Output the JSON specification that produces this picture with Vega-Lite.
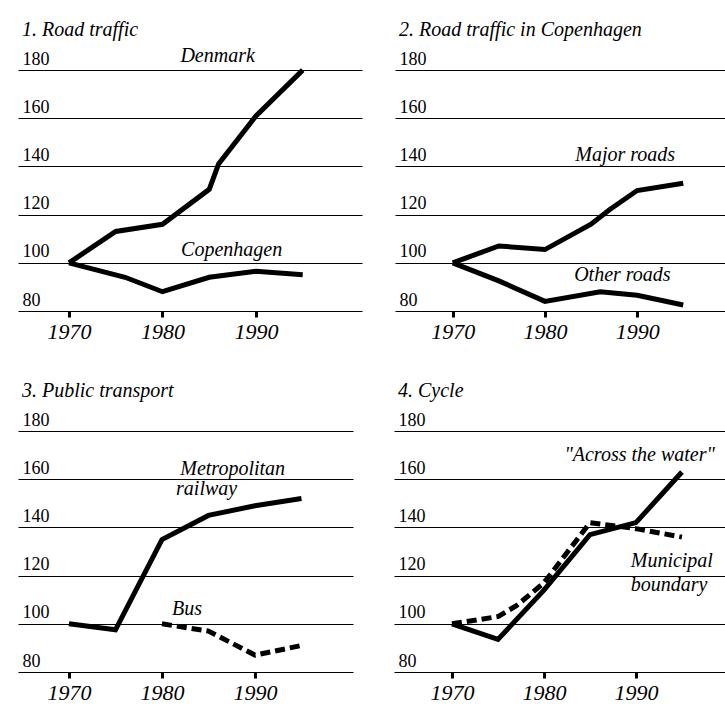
{
  "$schema": "https://vega.github.io/schema/vega-lite/v6.json",
  "padding": {"left": 18, "top": 19, "right": 0, "bottom": 0},
  "background": "white",
  "config": {
    "font": "Liberation Serif",
    "view": {"stroke": null},
    "axis": {"labelColor": "black", "labelFont": "Liberation Serif", "domain": false, "labelFlush": false, "labelOverlap": false},
    "axisX": {"grid": false, "labelFontSize": 22, "labelFontStyle": "italic", "labelPadding": 4},
    "axisY": {"grid": true, "gridColor": "black", "gridWidth": 1, "gridOpacity": 1, "ticks": false, "labelAlign": "left", "labelBaseline": "alphabetic", "labelPadding": -4, "labelOffset": -6, "labelFontSize": 18},
    "title": {"anchor": "start", "frame": "group", "fontSize": 20, "fontStyle": "italic", "fontWeight": "normal", "baseline": "alphabetic", "offset": 6, "dx": 4, "color": "black", "font": "Liberation Serif"},
    "text": {"fontStyle": "italic", "fontSize": 20, "align": "center", "baseline": "alphabetic", "color": "black", "font": "Liberation Serif"}
  },
  "datasets": {
    "series": [
      {"panel": 1, "series": "Denmark", "year": 1970, "value": 100},
      {"panel": 1, "series": "Denmark", "year": 1975, "value": 113},
      {"panel": 1, "series": "Denmark", "year": 1980, "value": 116},
      {"panel": 1, "series": "Denmark", "year": 1985, "value": 130.5},
      {"panel": 1, "series": "Denmark", "year": 1986, "value": 141},
      {"panel": 1, "series": "Denmark", "year": 1990, "value": 161},
      {"panel": 1, "series": "Denmark", "year": 1995, "value": 180},
      {"panel": 1, "series": "Copenhagen", "year": 1970, "value": 100},
      {"panel": 1, "series": "Copenhagen", "year": 1976, "value": 94},
      {"panel": 1, "series": "Copenhagen", "year": 1980, "value": 88},
      {"panel": 1, "series": "Copenhagen", "year": 1985, "value": 94},
      {"panel": 1, "series": "Copenhagen", "year": 1990, "value": 96.5},
      {"panel": 1, "series": "Copenhagen", "year": 1995, "value": 95},
      {"panel": 2, "series": "Major roads", "year": 1970, "value": 100},
      {"panel": 2, "series": "Major roads", "year": 1975, "value": 107},
      {"panel": 2, "series": "Major roads", "year": 1980, "value": 105.5},
      {"panel": 2, "series": "Major roads", "year": 1985, "value": 116},
      {"panel": 2, "series": "Major roads", "year": 1987, "value": 122},
      {"panel": 2, "series": "Major roads", "year": 1990, "value": 130},
      {"panel": 2, "series": "Major roads", "year": 1995, "value": 133},
      {"panel": 2, "series": "Other roads", "year": 1970, "value": 100},
      {"panel": 2, "series": "Other roads", "year": 1975, "value": 92.5},
      {"panel": 2, "series": "Other roads", "year": 1980, "value": 84},
      {"panel": 2, "series": "Other roads", "year": 1986, "value": 88},
      {"panel": 2, "series": "Other roads", "year": 1990, "value": 86.5},
      {"panel": 2, "series": "Other roads", "year": 1995, "value": 82.5},
      {"panel": 3, "series": "Metropolitan railway", "year": 1970, "value": 100},
      {"panel": 3, "series": "Metropolitan railway", "year": 1975, "value": 97.5},
      {"panel": 3, "series": "Metropolitan railway", "year": 1980, "value": 135},
      {"panel": 3, "series": "Metropolitan railway", "year": 1985, "value": 145},
      {"panel": 3, "series": "Metropolitan railway", "year": 1990, "value": 149},
      {"panel": 3, "series": "Metropolitan railway", "year": 1995, "value": 152},
      {"panel": 3, "series": "Bus", "year": 1980, "value": 100},
      {"panel": 3, "series": "Bus", "year": 1985, "value": 97},
      {"panel": 3, "series": "Bus", "year": 1990, "value": 87},
      {"panel": 3, "series": "Bus", "year": 1995, "value": 91},
      {"panel": 4, "series": "Across the water", "year": 1970, "value": 100},
      {"panel": 4, "series": "Across the water", "year": 1975, "value": 93.5},
      {"panel": 4, "series": "Across the water", "year": 1980, "value": 114},
      {"panel": 4, "series": "Across the water", "year": 1985, "value": 137},
      {"panel": 4, "series": "Across the water", "year": 1990, "value": 142},
      {"panel": 4, "series": "Across the water", "year": 1995, "value": 163},
      {"panel": 4, "series": "Municipal boundary", "year": 1970, "value": 100},
      {"panel": 4, "series": "Municipal boundary", "year": 1975, "value": 103},
      {"panel": 4, "series": "Municipal boundary", "year": 1977, "value": 107.5},
      {"panel": 4, "series": "Municipal boundary", "year": 1980, "value": 117},
      {"panel": 4, "series": "Municipal boundary", "year": 1985, "value": 142},
      {"panel": 4, "series": "Municipal boundary", "year": 1990, "value": 139.5},
      {"panel": 4, "series": "Municipal boundary", "year": 1995, "value": 136}
    ],
    "labels": [
      {"panel": 1, "text": "Denmark", "year": 1985.9, "value": 183.5},
      {"panel": 1, "text": "Copenhagen", "year": 1987.4, "value": 102.9},
      {"panel": 2, "text": "Major roads", "year": 1988.7, "value": 142.4},
      {"panel": 2, "text": "Other roads", "year": 1988.4, "value": 92.6},
      {"panel": 3, "text": "Metropolitan", "year": 1987.6, "value": 161.6},
      {"panel": 3, "text": "railway", "year": 1984.8, "value": 153.3},
      {"panel": 3, "text": "Bus", "year": 1982.7, "value": 103.5},
      {"panel": 4, "text": "\"Across the water\"", "year": 1990.4, "value": 167.6},
      {"panel": 4, "text": "Municipal", "year": 1993.9, "value": 123.7},
      {"panel": 4, "text": "boundary", "year": 1993.6, "value": 113.5}
    ]
  },
  "spacing": 39,
  "vconcat": [
    {
      "spacing": 33,
      "hconcat": [
        {
          "width": 344, "height": 265,
          "title": "1. Road traffic",
          "encoding": {
            "x": {"field": "year", "type": "quantitative", "scale": {"domain": [1964.55, 2001.34], "nice": false, "zero": false}, "axis": {"values": [1970, 1980, 1990], "format": "d", "title": null, "ticks": true, "tickSize": 6, "tickWidth": 3, "tickColor": "black", "tickOpacity": 1}},
            "y": {"field": "value", "type": "quantitative", "scale": {"domain": [80, 190], "nice": false, "zero": false}, "axis": {"values": [80, 100, 120, 140, 160, 180], "title": null}}
          },
          "layer": [
            {"data": {"name": "series"}, "transform": [{"filter": "datum.panel == 1"}],
             "mark": {"type": "line", "strokeWidth": 5, "color": "black"},
             "encoding": {"detail": {"field": "series"}}},
            {"data": {"name": "labels"}, "transform": [{"filter": "datum.panel == 1"}],
             "mark": {"type": "text"},
             "encoding": {"text": {"field": "text"}}}
          ]
        },
        {
          "width": 330, "height": 265,
          "title": "2. Road traffic in Copenhagen",
          "encoding": {
            "x": {"field": "year", "type": "quantitative", "scale": {"domain": [1963.74, 1999.53], "nice": false, "zero": false}, "axis": {"values": [1970, 1980, 1990], "format": "d", "title": null, "ticks": true, "tickSize": 6, "tickWidth": 3, "tickColor": "black", "tickOpacity": 1}},
            "y": {"field": "value", "type": "quantitative", "scale": {"domain": [80, 190], "nice": false, "zero": false}, "axis": {"values": [80, 100, 120, 140, 160, 180], "title": null}}
          },
          "layer": [
            {"data": {"name": "series"}, "transform": [{"filter": "datum.panel == 2"}],
             "mark": {"type": "line", "strokeWidth": 5, "color": "black"},
             "encoding": {"detail": {"field": "series"}}},
            {"data": {"name": "labels"}, "transform": [{"filter": "datum.panel == 2"}],
             "mark": {"type": "text"},
             "encoding": {"text": {"field": "text"}}}
          ]
        }
      ]
    },
    {
      "spacing": 41,
      "hconcat": [
        {
          "width": 335, "height": 265,
          "title": "3. Public transport",
          "encoding": {
            "x": {"field": "year", "type": "quantitative", "scale": {"domain": [1964.52, 2000.54], "nice": false, "zero": false}, "axis": {"values": [1970, 1980, 1990], "format": "d", "title": null, "ticks": true, "tickSize": 6, "tickWidth": 3, "tickColor": "black", "tickOpacity": 1}},
            "y": {"field": "value", "type": "quantitative", "scale": {"domain": [80, 190], "nice": false, "zero": false}, "axis": {"values": [80, 100, 120, 140, 160, 180], "title": null}}
          },
          "layer": [
            {"data": {"name": "series"}, "transform": [{"filter": "datum.panel == 3 && datum.series != 'Bus'"}],
             "mark": {"type": "line", "strokeWidth": 5, "color": "black"},
             "encoding": {"detail": {"field": "series"}}},
            {"data": {"name": "series"}, "transform": [{"filter": "datum.panel == 3 && datum.series == 'Bus'"}],
             "mark": {"type": "line", "strokeWidth": 5, "color": "black", "strokeDash": [10, 5]},
             "encoding": {"detail": {"field": "series"}}},
            {"data": {"name": "labels"}, "transform": [{"filter": "datum.panel == 3"}],
             "mark": {"type": "text"},
             "encoding": {"text": {"field": "text"}}}
          ]
        },
        {
          "width": 331, "height": 265,
          "title": "4. Cycle",
          "encoding": {
            "x": {"field": "year", "type": "quantitative", "scale": {"domain": [1963.7, 1999.68], "nice": false, "zero": false}, "axis": {"values": [1970, 1980, 1990], "format": "d", "title": null, "ticks": true, "tickSize": 6, "tickWidth": 3, "tickColor": "black", "tickOpacity": 1}},
            "y": {"field": "value", "type": "quantitative", "scale": {"domain": [80, 190], "nice": false, "zero": false}, "axis": {"values": [80, 100, 120, 140, 160, 180], "title": null}}
          },
          "layer": [
            {"data": {"name": "series"}, "transform": [{"filter": "datum.panel == 4 && datum.series != 'Municipal boundary'"}],
             "mark": {"type": "line", "strokeWidth": 5, "color": "black"},
             "encoding": {"detail": {"field": "series"}}},
            {"data": {"name": "series"}, "transform": [{"filter": "datum.panel == 4 && datum.series == 'Municipal boundary'"}],
             "mark": {"type": "line", "strokeWidth": 5, "color": "black", "strokeDash": [10, 5]},
             "encoding": {"detail": {"field": "series"}}},
            {"data": {"name": "labels"}, "transform": [{"filter": "datum.panel == 4"}],
             "mark": {"type": "text"},
             "encoding": {"text": {"field": "text"}}}
          ]
        }
      ]
    }
  ]
}
